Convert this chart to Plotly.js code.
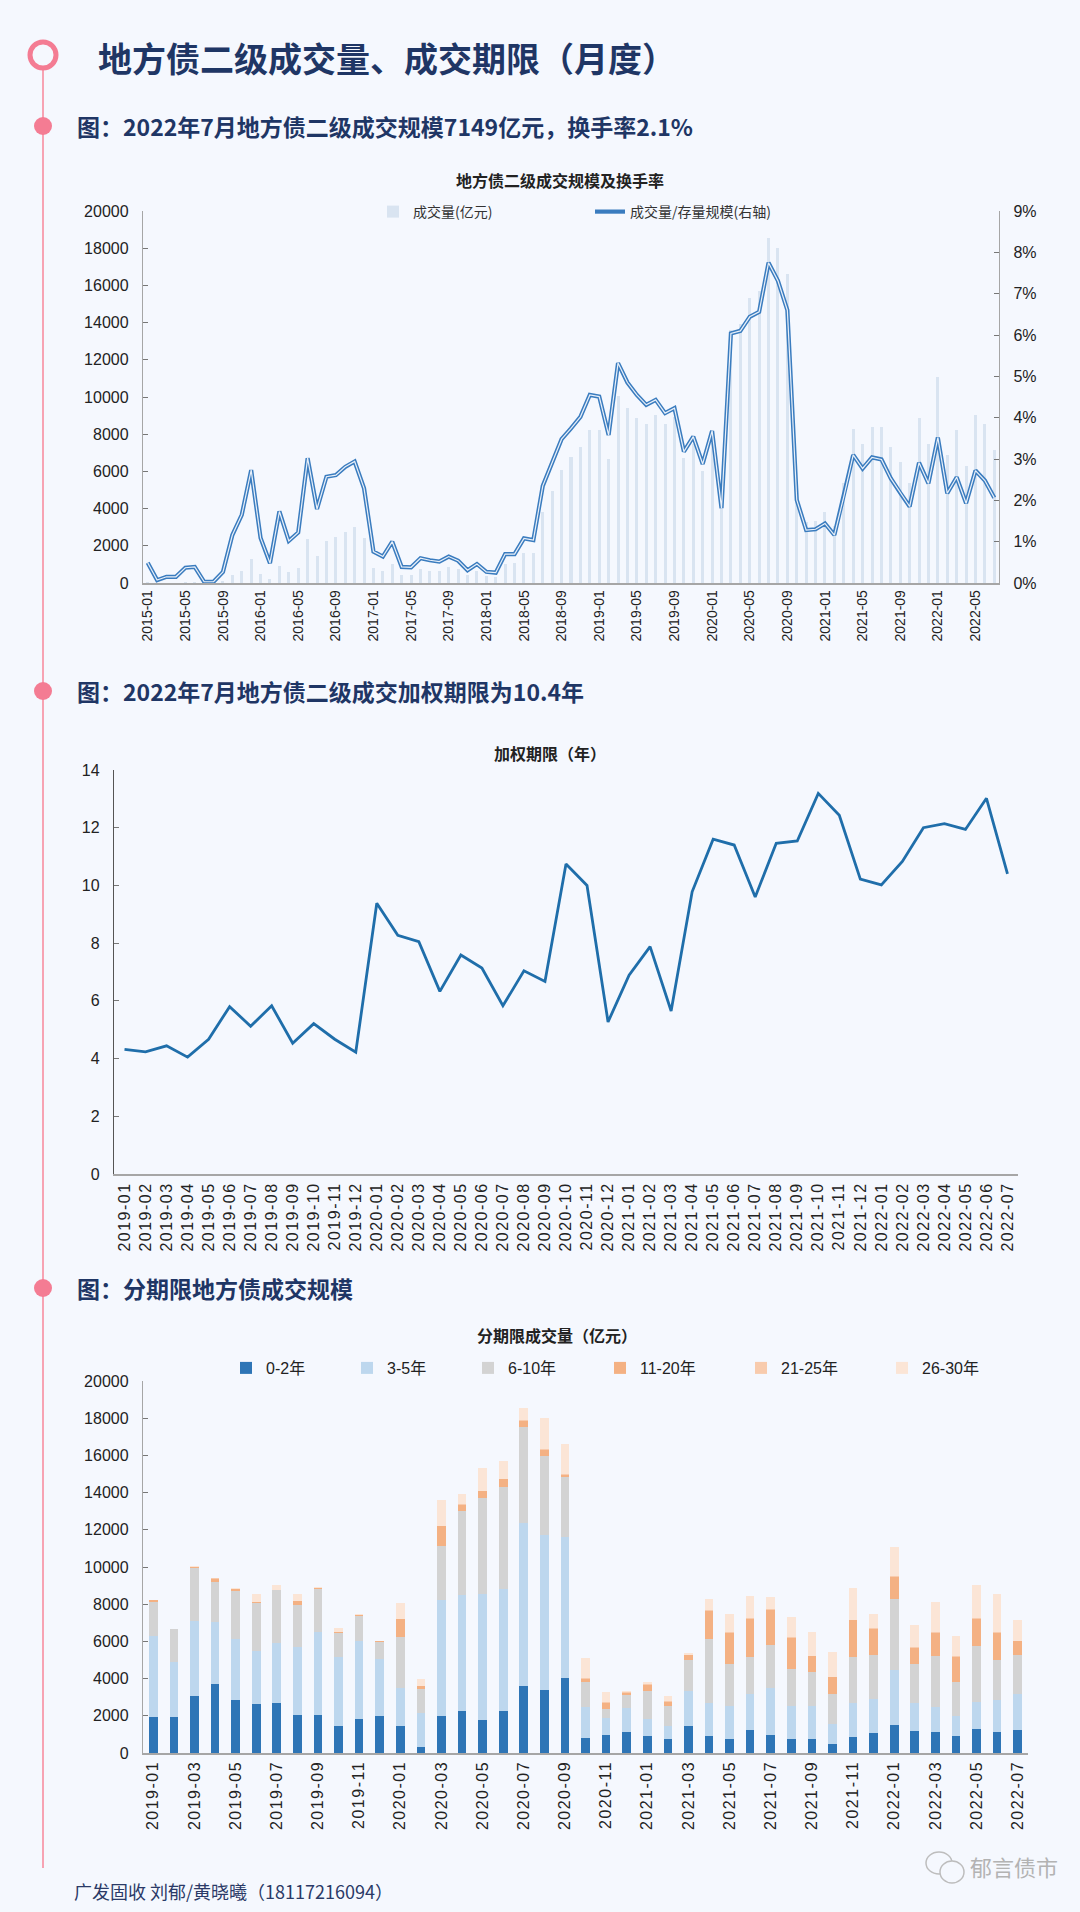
<!DOCTYPE html>
<html><head><meta charset="utf-8">
<script src="https://cdn.plot.ly/plotly-3.0.1.min.js"></script>
<style>
html,body{margin:0;padding:0;background:#f5f8fe;}
#chart{width:1080px;height:1912px;}
.x2tick text, .x3tick text {letter-spacing:1.5px;}
</style>
</head><body><div id="chart"></div>
<script>
// ---------- Chart 1: monthly secondary volume & turnover (2015-01 .. 2022-07)
const months1 = ["2015-01","2015-02","2015-03","2015-04","2015-05","2015-06","2015-07","2015-08","2015-09","2015-10","2015-11","2015-12",
"2016-01","2016-02","2016-03","2016-04","2016-05","2016-06","2016-07","2016-08","2016-09","2016-10","2016-11","2016-12",
"2017-01","2017-02","2017-03","2017-04","2017-05","2017-06","2017-07","2017-08","2017-09","2017-10","2017-11","2017-12",
"2018-01","2018-02","2018-03","2018-04","2018-05","2018-06","2018-07","2018-08","2018-09","2018-10","2018-11","2018-12",
"2019-01","2019-02","2019-03","2019-04","2019-05","2019-06","2019-07","2019-08","2019-09","2019-10","2019-11","2019-12",
"2020-01","2020-02","2020-03","2020-04","2020-05","2020-06","2020-07","2020-08","2020-09","2020-10","2020-11","2020-12",
"2021-01","2021-02","2021-03","2021-04","2021-05","2021-06","2021-07","2021-08","2021-09","2021-10","2021-11","2021-12",
"2022-01","2022-02","2022-03","2022-04","2022-05","2022-06","2022-07"];
const volume1 = [50,10,15,15,40,45,5,5,100,430,660,1270,
480,200,910,610,820,2350,1450,2280,2490,2760,3030,2440,
790,660,1020,430,430,740,660,660,880,740,430,660,
380,320,1000,1060,1630,1630,3830,4960,6090,6780,7290,8240,
8230,6660,10080,9420,8860,8540,9020,8540,8900,6710,7480,6030,
8060,3970,13600,13900,15320,15700,18530,18030,16610,5100,3280,3350,
3810,3040,5370,8270,7465,8410,8380,7300,6480,5400,8860,7480,
11060,6890,8200,6270,9040,8560,7149];
const turnover1 = [0.49,0.07,0.15,0.15,0.37,0.39,0.03,0.03,0.27,1.16,1.65,2.73,
1.09,0.48,1.73,1.02,1.22,3.02,1.79,2.57,2.61,2.81,2.94,2.29,
0.76,0.64,1.00,0.39,0.38,0.60,0.55,0.52,0.64,0.54,0.31,0.46,
0.27,0.25,0.70,0.70,1.08,1.04,2.35,2.94,3.48,3.74,4.02,4.55,
4.51,3.58,5.32,4.85,4.55,4.31,4.43,4.11,4.23,3.18,3.54,2.88,
3.68,1.81,6.04,6.10,6.44,6.56,7.75,7.31,6.60,2.01,1.28,1.30,
1.44,1.16,2.09,3.10,2.77,3.04,2.99,2.53,2.18,1.85,2.91,2.41,
3.52,2.17,2.56,1.93,2.72,2.48,2.06];

// ---------- Chart 2 & 3: 2019-01 .. 2022-07
const months2 = ["2019-01","2019-02","2019-03","2019-04","2019-05","2019-06","2019-07","2019-08","2019-09","2019-10","2019-11","2019-12",
"2020-01","2020-02","2020-03","2020-04","2020-05","2020-06","2020-07","2020-08","2020-09","2020-10","2020-11","2020-12",
"2021-01","2021-02","2021-03","2021-04","2021-05","2021-06","2021-07","2021-08","2021-09","2021-10","2021-11","2021-12",
"2022-01","2022-02","2022-03","2022-04","2022-05","2022-06","2022-07"];
const duration2 = [4.32,4.23,4.44,4.05,4.67,5.80,5.12,5.83,4.53,5.21,4.67,4.22,
9.38,8.27,8.05,6.33,7.59,7.14,5.83,7.04,6.67,10.74,10.00,5.27,
6.89,7.88,5.65,9.78,11.60,11.40,9.60,11.46,11.54,13.19,12.43,10.22,
10.02,10.83,12.00,12.14,11.94,13.02,10.40];

const bucketNames = ["0-2年","3-5年","6-10年","11-20年","21-25年","26-30年"];
const bucketColors = ["#2e75b6","#bdd7ee","#d3d3d3","#f4b183","#f8cbad","#fbe5d6"];
const b0_2 = [1930,1930,3040,3720,2860,2630,2690,2060,2020,1430,1830,2010,
1430,320,1970,2270,1790,2240,3620,3400,4030,820,970,1110,
930,770,1470,930,770,1220,970,750,770,500,860,1070,
1520,1200,1110,930,1290,1110,1220];
const b3_5 = [4370,2950,4080,3330,3260,2850,3220,3620,4480,3720,4170,3040,
2090,1830,6230,6210,6770,6570,8740,8310,7570,1630,910,1310,
910,660,1840,1750,1770,1970,2520,1790,1770,1060,1830,1830,
2950,1490,1380,1040,1430,1720,1970];
const b6_10 = [1830,1770,2850,2150,2610,2580,2830,2290,2310,1290,1340,900,
2690,1290,2940,4510,5140,5510,5190,4260,3260,1360,500,680,
1500,1110,1670,3440,2260,1970,2330,1970,1810,1630,2450,2380,
3810,2110,2720,1830,3010,2150,2060];
const b11_20 = [70,0,50,180,110,40,40,180,70,40,90,50,
1000,140,1040,360,360,390,320,320,90,180,300,130,
320,220,270,1520,1650,2060,1880,1670,840,880,1990,1380,
1180,860,1250,1360,1470,1470,750];
const b21_25 = [0,0,0,30,0,0,0,40,0,0,0,0,
20,40,0,40,40,40,40,40,40,40,40,40,
40,40,40,40,40,40,40,40,40,40,40,40,
40,40,40,40,40,40,40];
const b26_30 = [20,0,50,0,20,450,250,360,20,230,50,40,
820,360,1430,520,1230,950,630,1700,1630,1070,560,90,
110,250,90,590,990,1160,640,1090,1250,1310,1700,790,
1560,1200,1630,1070,1810,2080,1110];
const buckets = [b0_2,b3_5,b6_10,b11_20,b21_25,b26_30];

// ---------- layout helpers (pixel -> paper / container)
const W = 1080, H = 1912;
const X = p => p / W;
const Y = p => 1 - p / H;
const BG = "#f5f8fe";
const NAVY = "#1f3665";
const PINK = "#f47c93";
const CJK = "Noto Sans CJK SC";
const SANS = "Liberation Sans, Arial, sans-serif";

// legend entry positions (text start x, center y) in pixels
const legendPos1 = [[413,212],[630,212]];
const legendPos3 = [[266,1368],[387,1368],[508,1368],[640,1368],[781,1368],[922,1368]];

const traces = [];
traces.push({type:"bar", x:months1, y:volume1, xaxis:"x", yaxis:"y", width:0.32,
  marker:{color:"#d9e4f1"}, name:"成交量(亿元)", legend:"legend"});
traces.push({type:"scatter", mode:"lines", x:months1, y:turnover1, xaxis:"x", yaxis:"y2",
  line:{color:"#3a7cbf", width:4.2}, name:"成交量/存量规模(右轴)", legend:"legend2"});
traces.push({type:"scatter", mode:"lines", x:months1, y:turnover1, xaxis:"x", yaxis:"y2",
  line:{color:"#e9f0f9", width:1.2}, showlegend:false, hoverinfo:"skip"});
traces.push({type:"scatter", mode:"lines", x:months2, y:duration2, xaxis:"x2", yaxis:"y3",
  line:{color:"#1f6eaa", width:2.8}, showlegend:false});
buckets.forEach((arr,k)=>{
  traces.push({type:"bar", x:months2, y:arr, xaxis:"x3", yaxis:"y4", width:0.42,
    marker:{color:bucketColors[k]}, name:bucketNames[k], legend:"legend"+(k+3)});
});

const tick1 = months1.filter((m,i)=>i%4===0);
const tick3 = months2.filter((m,i)=>i%2===0);

const xBase = {type:"category", tickangle:-90, showgrid:false, zeroline:false,
  showline:true, linecolor:"#a6a6a6", linewidth:1.5, ticks:"", tickfont:{family:SANS,size:16,color:"#222"}};
const yBase = {showgrid:false, zeroline:false, showline:true, linecolor:"#a6a6a6", linewidth:1.2,
  ticks:"inside", ticklen:5, tickcolor:"#777", tickfont:{family:SANS,size:16,color:"#222"}, ticklabelstandoff:10};

const layout = {
  width:W, height:H, margin:{l:0,r:0,t:0,b:0,autoexpand:false},
  paper_bgcolor:BG, plot_bgcolor:BG, barmode:"stack", hovermode:false,
  xaxis: Object.assign({}, xBase, {domain:[X(143),X(999)], anchor:"y", range:[-0.5,90.5],
    tickmode:"array", tickvals:tick1, ticktext:tick1, tickfont:{family:SANS,size:14,color:"#222"}}),
  yaxis: Object.assign({}, yBase, {domain:[Y(583),Y(211)], anchor:"x", range:[0,20000], dtick:2000, tickformat:"d"}),
  yaxis2: Object.assign({}, yBase, {overlaying:"y", side:"right", anchor:"x", range:[0,9], dtick:1, ticksuffix:"%"}),
  xaxis2: Object.assign({}, xBase, {domain:[X(114),X(1018)], anchor:"y3", range:[-0.5,42.5], dtick:1, linewidth:2}),
  yaxis3: Object.assign({}, yBase, {domain:[Y(1174),Y(770)], anchor:"x2", range:[0,14], dtick:2, linecolor:"#555"}),
  xaxis3: Object.assign({}, xBase, {domain:[X(143),X(1028)], anchor:"y4", range:[-0.5,42.5],
    tickmode:"array", tickvals:tick3, ticktext:tick3}),
  yaxis4: Object.assign({}, yBase, {domain:[Y(1753),Y(1381)], anchor:"x3", range:[0,20000], dtick:2000, tickformat:"d"}),
  annotations: [
    {text:"地方债二级成交量、成交期限（月度）", x:X(96), y:Y(57), xref:"paper", yref:"paper",
      xanchor:"left", yanchor:"middle", showarrow:false, font:{family:CJK, size:34, weight:"bold", color:NAVY}},
    {text:"图：2022年7月地方债二级成交规模7149亿元，换手率2.1%", x:X(75), y:Y(126), xref:"paper", yref:"paper",
      xanchor:"left", yanchor:"middle", showarrow:false, font:{family:CJK, size:23, weight:"bold", color:NAVY}},
    {text:"图：2022年7月地方债二级成交加权期限为10.4年", x:X(75), y:Y(691), xref:"paper", yref:"paper",
      xanchor:"left", yanchor:"middle", showarrow:false, font:{family:CJK, size:23, weight:"bold", color:NAVY}},
    {text:"图：分期限地方债成交规模", x:X(75), y:Y(1288), xref:"paper", yref:"paper",
      xanchor:"left", yanchor:"middle", showarrow:false, font:{family:CJK, size:23, weight:"bold", color:NAVY}},
    {text:"地方债二级成交规模及换手率", x:X(560), y:Y(180), xref:"paper", yref:"paper",
      xanchor:"center", yanchor:"middle", showarrow:false, font:{family:CJK, size:16, weight:"bold", color:"#222"}},
    {text:"加权期限（年）", x:X(550), y:Y(753), xref:"paper", yref:"paper",
      xanchor:"center", yanchor:"middle", showarrow:false, font:{family:CJK, size:16, weight:"bold", color:"#222"}},
    {text:"分期限成交量（亿元）", x:X(557), y:Y(1335), xref:"paper", yref:"paper",
      xanchor:"center", yanchor:"middle", showarrow:false, font:{family:CJK, size:16, weight:"bold", color:"#222"}},
    {text:"广发固收 刘郁/黄晓曦（18117216094）", x:X(72), y:Y(1891), xref:"paper", yref:"paper",
      xanchor:"left", yanchor:"middle", showarrow:false, font:{family:CJK, size:18, color:"#2b3a67"}},
    {text:"郁言债市", x:X(968), y:Y(1866), xref:"paper", yref:"paper",
      xanchor:"left", yanchor:"middle", showarrow:false, font:{family:CJK, size:22, color:"#b3b3b3"}}
  ],
  shapes: [
    {type:"line", xref:"paper", yref:"paper", x0:X(43), x1:X(43), y0:Y(70), y1:Y(1868),
      line:{color:"#f7a3b3", width:2}, layer:"below"},
    {type:"circle", xref:"paper", yref:"paper", x0:X(30), x1:X(56), y0:Y(68), y1:Y(42),
      line:{color:PINK, width:5}, fillcolor:BG},
    {type:"circle", xref:"paper", yref:"paper", x0:X(34), x1:X(52), y0:Y(135), y1:Y(117),
      line:{width:0}, fillcolor:PINK},
    {type:"circle", xref:"paper", yref:"paper", x0:X(34), x1:X(52), y0:Y(700), y1:Y(682),
      line:{width:0}, fillcolor:PINK},
    {type:"circle", xref:"paper", yref:"paper", x0:X(34), x1:X(52), y0:Y(1297), y1:Y(1279),
      line:{width:0}, fillcolor:PINK},
    {type:"circle", xref:"paper", yref:"paper", x0:X(926), x1:X(952), y0:Y(1874), y1:Y(1852),
      line:{color:"#bdbdbd", width:1.5}, fillcolor:BG},
    {type:"circle", xref:"paper", yref:"paper", x0:X(940), x1:X(964), y0:Y(1883), y1:Y(1861),
      line:{color:"#bdbdbd", width:1.5}, fillcolor:BG}
  ]
};

// one single-entry legend per series, placed in container pixels
function legendAt(pos, font){
  return {orientation:"h", xref:"container", yref:"container",
    x:X(pos[0]-40), xanchor:"left", y:Y(pos[1]), yanchor:"middle",
    bgcolor:"rgba(0,0,0,0)", borderwidth:0, font:font, itemwidth:30};
}
const f1 = {family:CJK, size:14, color:"#333"};
const f3 = {family:SANS+", "+CJK, size:16, color:"#222"};
layout.legend = legendAt(legendPos1[0], f1);
layout.legend2 = legendAt(legendPos1[1], f1);
legendPos3.forEach((p,k)=>{ layout["legend"+(k+3)] = legendAt(p, f3); });

Plotly.newPlot("chart", traces, layout, {staticPlot:true, displayModeBar:false});
</script>
</body></html>
